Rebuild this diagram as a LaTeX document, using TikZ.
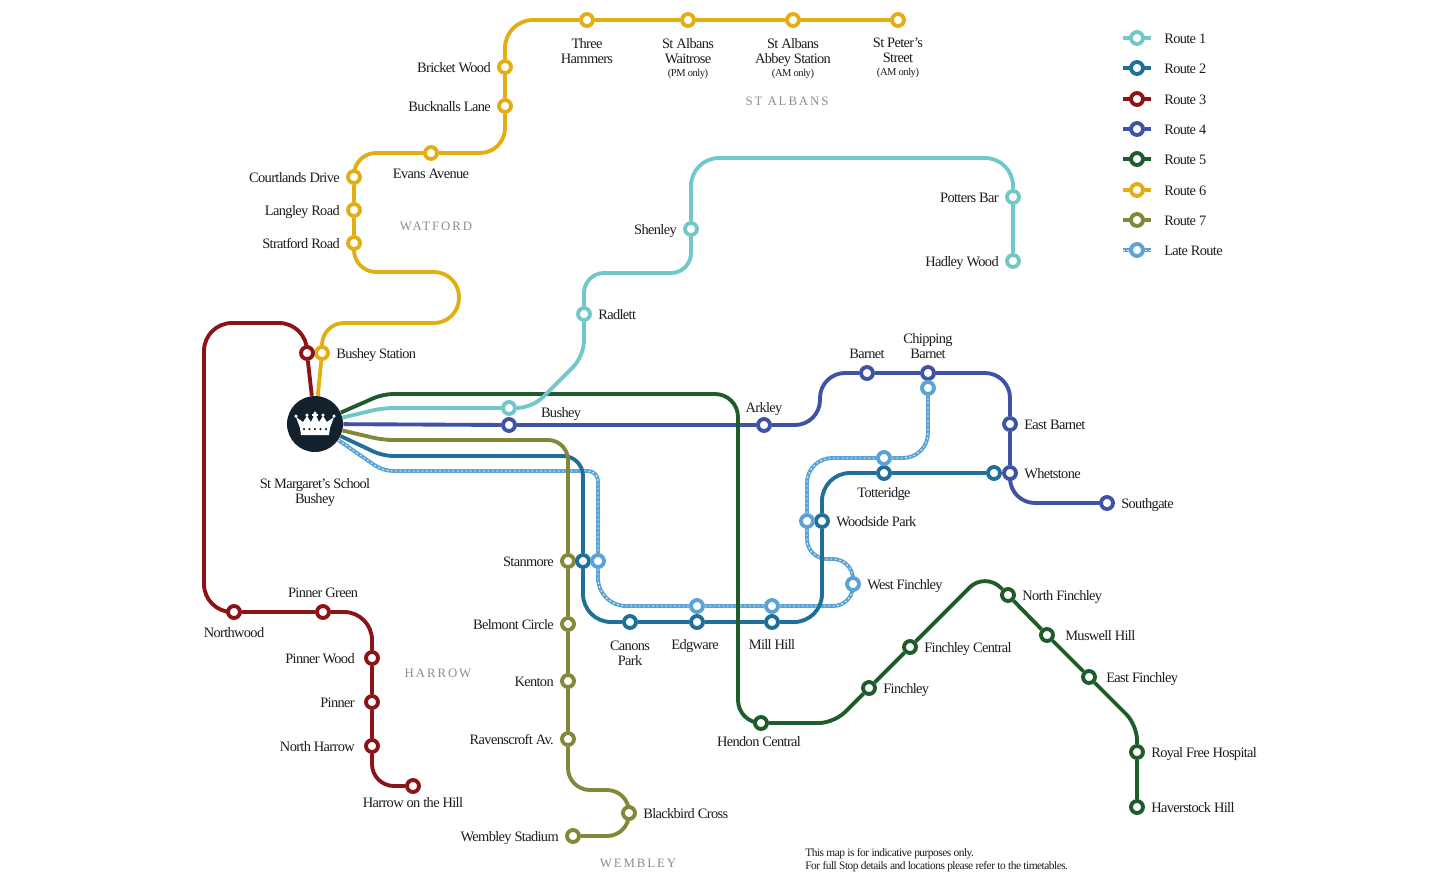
\documentclass[tikz,border=0pt]{standalone}
\usepackage{fontspec}
\setmainfont{Liberation Serif}[LetterSpace=-4.5]
\newfontfamily\areafont[LetterSpace=15]{Liberation Serif}
\usetikzlibrary{positioning,backgrounds}
\definecolor{c1}{HTML}{72C7C9}
\definecolor{c2}{HTML}{1F6F98}
\definecolor{c3}{HTML}{8A1416}
\definecolor{c4}{HTML}{3F52A6}
\definecolor{c5}{HTML}{1F5C2C}
\definecolor{c6}{HTML}{E2AE14}
\definecolor{c7}{HTML}{82873A}
\definecolor{c8}{HTML}{5BA3D5}
\definecolor{ink}{HTML}{1B1D22}
\definecolor{navyblack}{HTML}{13212C}
\definecolor{areagrey}{HTML}{8C8C8C}
\newcommand{\onlytxt}{\fontsize{6}{8.4}\selectfont}
\tikzset{stop/.style={circle,fill=white,line width=2.2pt,minimum size=.24cm,inner sep=0pt},
s1/.style={stop,draw=c1},s2/.style={stop,draw=c2},s3/.style={stop,draw=c3},s4/.style={stop,draw=c4},
s5/.style={stop,draw=c5},s6/.style={stop,draw=c6},s7/.style={stop,draw=c7},s8/.style={stop,draw=c8},
route/.style={line width=2.2pt},
r1/.style={route,draw=c1},r2/.style={route,draw=c2},r3/.style={route,draw=c3},r4/.style={route,draw=c4},
r5/.style={route,draw=c5},r6/.style={route,draw=c6},r7/.style={route,draw=c7},
r8/.style={route,draw=c8,postaction={draw=white,line width=.45pt,dash pattern=on 1pt off 1.5pt}},
lbm/.style={font=\fontsize{8.2}{8.5}\selectfont,text=ink,inner sep=0pt,align=center},
lbl/.style={lbm,text height=5.6pt,text depth=1.6pt,yshift=-1.2pt},
area/.style={font=\fontsize{7.3}{8.5}\selectfont\areafont,text=areagrey,inner sep=0pt}}

\begin{document}
\begin{tikzpicture}[x=.02cm,y=-.02cm,label distance=.12cm]
\useasboundingbox (0,0) rectangle (1440,890);
\node[circle,fill=navyblack,minimum size=1.12cm,inner sep=0pt] (school) at (315,424) {};
\node[lbm,below=.52cm of school] (schoolname) {St Margaret’s School\\Bushey};
% route 6
\node[s6,label={[lbl]right:Bushey Station}] (bushy) at (322,353) {};
\node[s6,label={[lbl]left:Stratford Road}] (stratford) at (354,243) {};
\node[s6,label={[lbl]left:Langley Road}] (langley) at (354,210) {};
\node[s6,label={[lbl]left:Courtlands Drive}] (courtlands) at (354,177) {};
\node[s6,label={[lbl,yshift=.02cm]below:Evans Avenue}] (evans) at (431,153) {};
\node[s6,label={[lbl]left:Bucknalls Lane}] (bucknalls) at (505,106) {};
\node[s6,label={[lbl]left:Bricket Wood}] (bricket) at (505,67) {};
\node[s6,label={[lbm,yshift=-.08cm]below:Three\\Hammers}] (hammers) at (587,20) {};
\node[s6,label={[lbm,yshift=-.08cm]below:St Albans\\Waitrose\\[-1pt]{\onlytxt (PM only)}}] (waitrose) at (688,20) {};
\node[s6,label={[lbm,yshift=-.08cm]below:St Albans\\Abbey Station\\[-1pt]{\onlytxt (AM only)}}] (abbey) at (793,20) {};
\node[s6,label={[lbm,yshift=-.08cm]below:St Peter’s\\Street\\[-1pt]{\onlytxt (AM only)}}] (peters) at (898,20) {};
% route 3
\node[s3] (bushr) at (307,353) {};
\node[s3,label={[lbl,yshift=.02cm]below:Northwood}] (northwood) at (234,612) {};
\node[s3,label={[lbl]above:Pinner Green}] (pgreen) at (323,612) {};
\node[s3,label={[lbl,xshift=-.06cm]left:Pinner Wood}] (pwood) at (372,658) {};
\node[s3,label={[lbl,xshift=-.06cm]left:Pinner}] (pinner) at (372,702) {};
\node[s3,label={[lbl,xshift=-.06cm]left:North Harrow}] (nharrow) at (372,746) {};
\node[s3,label={[lbl,yshift=.1cm]below:Harrow on the Hill}] (hill) at (413,786) {};
% route 1
\node[s1] (bushc) at (509,408) {};
\node[s1,label={[lbl]right:Radlett}] (radlett) at (584,314) {};
\node[s1,label={[lbl]left:Shenley}] (shenley) at (691,229) {};
\node[s1,label={[lbl]left:Potters Bar}] (potters) at (1013,197) {};
\node[s1,label={[lbl]left:Hadley Wood}] (hadley) at (1013,261) {};
% route 4
\node[s4] (bushi) at (509,425) {};
\node[lbl] (bushname) at (561,412) {Bushey};
\node[s4,label={[lbl,yshift=-.05cm]above:Arkley}] (arkley) at (764,425) {};
\node[s4,label={[lbl]above:Barnet}] (barnet) at (867,373) {};
\node[s4,label={[lbm]above:Chipping\\Barnet}] (chipping) at (928,373) {};
\node[s4,label={[lbl]right:East Barnet}] (ebarnet) at (1010,424) {};
\node[s4,label={[lbl]right:Whetstone}] (whet) at (1010,473) {};
\node[s4,label={[lbl]right:Southgate}] (southgate) at (1107,503) {};
% route 5
\node[s5,label={[lbl,xshift=-.04cm,yshift=.06cm]below:Hendon Central}] (hendon) at (761,723) {};
\node[s5,label={[lbl]right:Finchley}] (finchley) at (869,688) {};
\node[s5,label={[lbl]right:Finchley Central}] (fcentral) at (910,647) {};
\node[s5,label={[lbl]right:North Finchley}] (nfinchley) at (1008,595) {};
\node[s5,label={[lbl,xshift=.08cm]right:Muswell Hill}] (muswell) at (1047,635) {};
\node[s5,label={[lbl,xshift=.06cm]right:East Finchley}] (efinchley) at (1089,677) {};
\node[s5,label={[lbl]right:Royal Free Hospital}] (royal) at (1137,752) {};
\node[s5,label={[lbl]right:Haverstock Hill}] (haverstock) at (1137,807) {};
% route 7
\node[s7,label={[lbl]left:Stanmore}] (stan) at (568,561) {};
\node[s7,label={[lbl]left:Belmont Circle}] (belmont) at (568,624) {};
\node[s7,label={[lbl]left:Kenton}] (kenton) at (568,681) {};
\node[s7,label={[lbl]left:Ravenscroft Av.}] (ravens) at (568,739) {};
\node[s7,label={[lbl]right:Blackbird Cross}] (blackbird) at (629,813) {};
\node[s7,label={[lbl]left:Wembley Stadium}] (wembley) at (573,836) {};
% route 2
\node[s2] (stan2) at (583,561) {};
\node[s2,label={[lbm,yshift=-.1cm]below:Canons\\Park}] (canons) at (630,622) {};
\node[s2,label={[lbl,xshift=-.04cm,yshift=-.02cm]below:Edgware}] (edg) at (697,622) {};
\node[s2,label={[lbl,yshift=-.02cm]below:Mill Hill}] (mill) at (772,622) {};
\node[s2,label={[lbl]right:Woodside Park}] (wood) at (822,521) {};
\node[s2,label={[lbl,yshift=.04cm]below:Totteridge}] (tot) at (884,473) {};
\node[s2] (whet2) at (994,473) {};
% late route
\node[s8] (lstan) at (598,561) {};
\node[s8] (ledg) at (697,606) {};
\node[s8] (lmill) at (772,606) {};
\node[s8,label={[lbl]right:West Finchley}] (lwest) at (853,584) {};
\node[s8] (lwood) at (807,521) {};
\node[s8] (ltot) at (884,458) {};
\node[s8] (lchip) at (928,388) {};
% key
\foreach \i/\y/\t in {1/38/Route 1,2/68/Route 2,3/99/Route 3,4/129/Route 4,5/159/Route 5,6/190/Route 6,7/220/Route 7,8/250/Late Route}{
\node[s\i,label={[lbl,xshift=.26cm]right:\t}] (key\i) at (1137,\y) {};
\coordinate (keya\i) at (1123,\y);
\coordinate (keyb\i) at (1151,\y);
}
% crown
\fill[white] (301,435)--(300,428)--(296,417)--(303,422)--(307,416)--(311,422)--(315,413)--(319,422)--(323,416)--(327,422)--(334,417)--(330,428)--(329,435)--cycle;
\foreach \x/\y in {296/416,307/415,315/413,323/415,334/416}\fill[white] (\x,\y) circle (.035cm);
\fill[white] (312,414) rectangle (318,415.5);
\foreach \x in {304,309.5,315,320.5,326}\fill[navyblack] (\x,429) circle (.025cm);
\node[area] (watford) at (436,226) {WATFORD};
\node[area] (stalbans) at (787,101) {ST ALBANS};
\node[area] (harrow) at (438,673) {HARROW};
\node[area] (wemb) at (638,863) {WEMBLEY};
\node[lbm,font=\fontsize{6.5}{7.3}\selectfont,align=left,anchor=west] (note) at (805,860.5) {This map is for indicative purposes only.\\For full Stop details and locations please refer to the timetables.};
\begin{scope}[on background layer]
\foreach \i in {8,...,1}\draw[r\i] (keya\i)--(keyb\i);
\draw[r8,rounded corners=.2cm] (school)--(383,471)--(598,471)[rounded corners=.56cm]--(lstan)--(598,606)--(ledg)--(lmill)[rounded corners=.4cm]--(853,606)--(lwest)--(853,559)--(807,559)--(lwood)[rounded corners=.5cm]--(807,458)--(ltot)--(928,458)--(lchip);
\draw[r2,rounded corners=.2cm] (school)--(383,456)[rounded corners=.4cm]--(583,456)--(stan2)[rounded corners=.56cm]--(583,622)--(canons)--(edg)--(mill)--(822,622)--(wood)--(822,473)--(tot)--(whet2);
\draw[r7,rounded corners=.2cm] (school)--(383,440)[rounded corners=.4cm]--(568,440)--(stan)--(belmont)--(kenton)--(ravens)[rounded corners=.44cm]--(568,790)--(629,790)--(blackbird)--(629,836)--(wembley);
\draw[r4,rounded corners=.5cm] (school)--(bushi)--(arkley)--(820,425)--(820,373)--(barnet)--(chipping)--(1010,373)--(ebarnet)--(whet)--(1010,503)--(southgate);
\draw[r5,rounded corners=.2cm] (school)--(383,394)[rounded corners=.46cm]--(738,394)--(738,723)--(hendon)[rounded corners=.3cm]--(834,723)--(finchley)--(fcentral)[rounded corners=.44cm]--(985,572)--(nfinchley)--(muswell)--(efinchley)[rounded corners=.3cm]--(1137,725)--(royal)--(haverstock);
\draw[r1,rounded corners=.2cm] (school)--(383,408)--(bushc)[rounded corners=.3cm]--(532,408)--(584,356)--(radlett)[rounded corners=.4cm]--(584,273)--(691,273)--(shenley)[rounded corners=.56cm]--(691,158)--(1013,158)--(potters)--(hadley);
\draw[r6,rounded corners=.44cm] (school)--(bushy)--(322,323)[rounded corners=.5cm]--(459,323)--(459,272)[rounded corners=.44cm]--(354,272)--(stratford)--(langley)--(courtlands)--(354,153)--(evans)[rounded corners=.5cm]--(505,153)--(bucknalls)--(bricket)[rounded corners=.56cm]--(505,20)--(hammers)--(waitrose)--(abbey)--(peters);
\draw[r3] (school)--(bushr)[rounded corners=.56cm]--(307,323)--(204,323)--(204,612)--(northwood)--(pgreen)--(372,612)--(pwood)--(pinner)--(nharrow)[rounded corners=.44cm]--(372,786)--(hill);
\end{scope}
\end{tikzpicture}
\end{document}
